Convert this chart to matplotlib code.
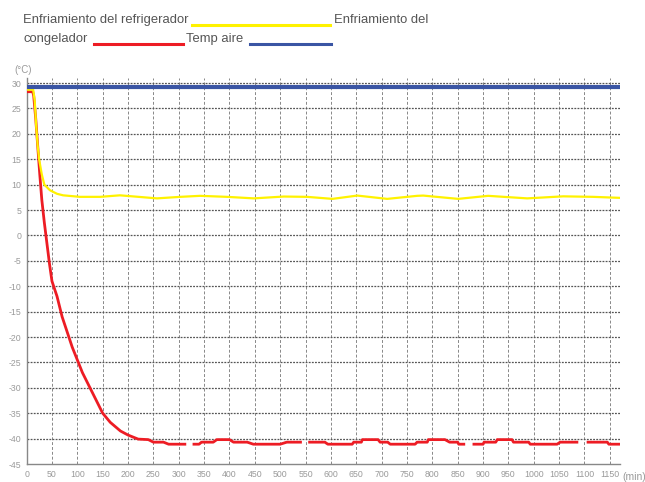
import numpy as np
import matplotlib.pyplot as plt
from matplotlib.lines import Line2D
from matplotlib import font_manager

plt.rcParams['font.family'] = ['Liberation Sans', 'DejaVu Sans']
plt.rcParams['axes.unicode_minus'] = False

# air temperature (flat)
air_t = [0, 1170]
air_T = [29.2, 29.2]

# refrigerator cooling (yellow)
fridge_t = [0, 13, 16, 19, 22, 25, 30, 35, 46, 60, 72, 105, 145, 184, 257, 303, 342,
            395, 448, 507, 553, 603, 652, 711, 770, 782, 851, 910, 987, 1058, 1117, 1170]
fridge_T = [28.7, 28.7, 26.5, 21.4, 17.5, 14.8, 12, 10, 8.9, 8.2, 7.9, 7.6, 7.6, 7.9, 7.3, 7.6, 7.8,
            7.6, 7.3, 7.66, 7.6, 7.2, 7.85, 7.2, 7.8, 7.85, 7.2, 7.8, 7.3, 7.7, 7.6, 7.4]

# freezer cooling (red), NaN = gaps in the drawn line
freezer_t = [0, 12, 14, 18, 22, 26, 30, 35, 40, 45, 50, 60, 70, 80, 90, 100, 110, 125, 140,
             150, 165, 185, 200, 220, 240, 250, 270, 280, 312, 320, 330, 340, 345, 368, 375,
             400, 408, 435, 447, 500, 513, 540, 549, 558, 588, 594, 642, 645, 660, 662, 693,
             697, 712, 717, 766, 770, 790, 792, 825, 834, 850, 852, 862, 872, 882, 900, 902,
             925, 928, 957, 960, 990, 993, 1046, 1052, 1085, 1096, 1107, 1145, 1148, 1170]
freezer_T = [28.3, 28.3, 27.5, 23, 17.5, 12, 7, 2.5, -1.5, -5.5, -9, -12, -16, -19, -22, -24.5,
             -27, -30, -33, -35, -36.8, -38.5, -39.3, -40.1, -40.2, -40.7, -40.7, -41.1, -41.1,
             np.nan, -41.1, -41.1, -40.7, -40.7, -40.2, -40.2, -40.7, -40.7, -41.1, -41.1, -40.7,
             -40.7, np.nan, -40.7, -40.7, -41.1, -41.1, -40.7, -40.7, -40.2, -40.2, -40.7, -40.7,
             -41.1, -41.1, -40.7, -40.7, -40.2, -40.2, -40.7, -40.7, -41.1, -41.1, np.nan, -41.1,
             -41.1, -40.7, -40.7, -40.2, -40.2, -40.7, -40.7, -41.1, -41.1, -40.7, -40.7, np.nan,
             -40.7, -40.7, -41.1, -41.1]

x_ticks = list(range(0, 1151, 50))
y_ticks = list(range(30, -46, -5))

yellow = '#fff200'
red = '#ed1c24'
blue = '#3a55a4'
grey = '#9a9a9a'

names = {f.name for f in font_manager.fontManager.ttflist}
leg_font = 'Liberation Sans Narrow' if 'Liberation Sans Narrow' in names else 'Liberation Sans'
fs = 11 if leg_font == 'Liberation Sans Narrow' else 9.4

fig = plt.figure(figsize=(6.45, 4.82), dpi=100)
ax = fig.add_axes([26.6 / 645, 1 - 464 / 482, (620 - 26.6) / 645, (464 - 78) / 482])

ax.plot(freezer_t, freezer_T, color=red, lw=2.0, zorder=3)
ax.plot(fridge_t, fridge_T, color=yellow, lw=1.6, zorder=4)
ax.plot(air_t, air_T, color=blue, lw=3.0, zorder=5, solid_capstyle='butt')

ax.set_xlim(0, 1170)
ax.set_ylim(-45, 31)

for v in x_ticks[1:]:
    ax.axvline(v, color='#888888', lw=0.7, ls=(0, (3, 2)), zorder=1)
for v in y_ticks[:-1]:
    ax.axhline(v, color='#555555', lw=0.9, ls=(0, (1.5, 1)), zorder=1)

ax.set_xticks(x_ticks)
ax.set_yticks(y_ticks)
ax.set_xticklabels([str(v) for v in x_ticks])
ax.tick_params(length=0, labelsize=6.3, colors=grey, pad=4)
for s in ['top', 'right']:
    ax.spines[s].set_visible(False)
for s in ['left', 'bottom']:
    ax.spines[s].set_color('#888888')
    ax.spines[s].set_linewidth(1.0)

fig.text(14 / 645, 1 - 70 / 482, '(°C)', fontsize=7, color=grey, ha='left', va='center')
fig.text(622 / 645, 1 - 477 / 482, '(min)', fontsize=7.5, color=grey, ha='left', va='center')

# legend written as wrapped text with line samples
tc = '#555555'
def fx(p):
    return p / 645
def fy(p):
    return 1 - p / 482
fig.text(fx(23), fy(20), 'Enfriamiento del refrigerador', fontsize=fs, color=tc, va='center', family=leg_font)
fig.add_artist(Line2D([fx(192), fx(330)], [fy(25), fy(25)], color=yellow, lw=2.2))
fig.text(fx(334), fy(20), 'Enfriamiento del', fontsize=fs, color=tc, va='center', family=leg_font)
fig.text(fx(23), fy(39), 'congelador', fontsize=fs, color=tc, va='center', family=leg_font)
fig.add_artist(Line2D([fx(94), fx(183)], [fy(44), fy(44)], color=red, lw=2.2))
fig.text(fx(186), fy(39), 'Temp aire', fontsize=fs, color=tc, va='center', family=leg_font)
fig.add_artist(Line2D([fx(250), fx(331)], [fy(44), fy(44)], color=blue, lw=2.2))

fig.savefig('out.png', dpi=100)
